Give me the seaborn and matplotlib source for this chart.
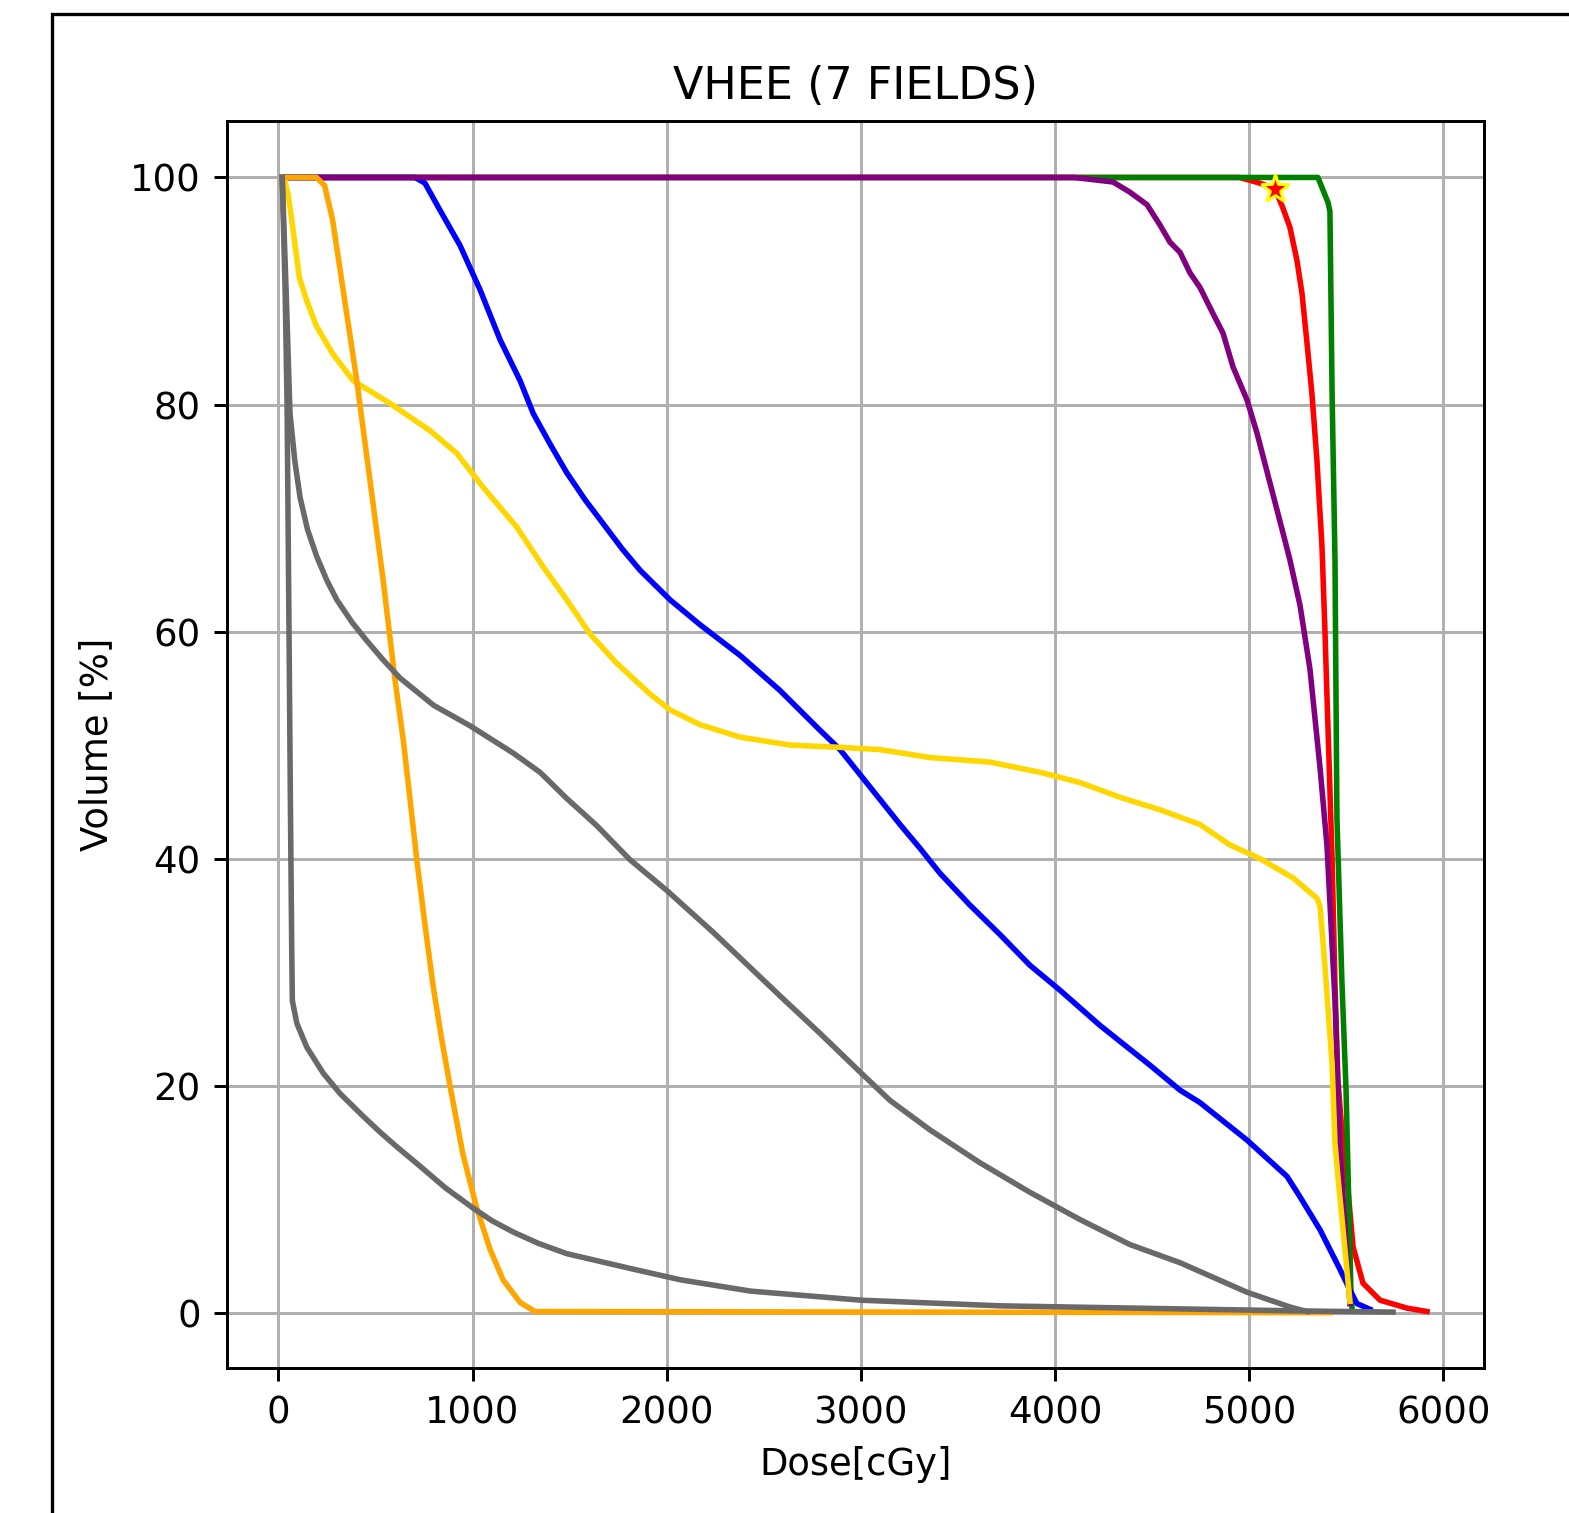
import matplotlib
matplotlib.use("Agg")
import matplotlib.pyplot as plt
from matplotlib.patches import Rectangle
import seaborn as sns
import pandas as pd

# ---- data (dose in cGy, volume in %) ----
red_x = [20, 4950, 5055, 5133, 5174, 5210, 5246, 5272, 5298, 5323, 5349, 5375, 5390, 5406, 5427,
         5442, 5457, 5473, 5509, 5535, 5586, 5674, 5813, 5916]
red_y = [100, 100, 99.5, 99.0, 97.3, 95.6, 92.7, 89.8, 85.4, 81.0, 75.1, 67.5, 60.2, 51.5, 40.0,
         28.9, 20.5, 17.0, 10.8, 5.8, 2.6, 1.1, 0.4, 0.1]

green_x = [20, 5354, 5406, 5416, 5427, 5442, 5452, 5478, 5499, 5524, 5530]
green_y = [100, 100, 97.8, 97.0, 81.0, 66.3, 43.6, 29.0, 19.6, 2.0, 0.3]

blue_x = [20, 704, 755, 833, 936, 1039, 1142, 1245, 1313, 1400, 1485, 1580, 1673, 1770, 1863,
          2017, 2172, 2378, 2584, 2790, 2893, 2996, 3099, 3202, 3305, 3408, 3562, 3717, 3871,
          4026, 4232, 4489, 4644, 4747, 4989, 5195, 5262, 5365, 5468, 5519, 5555, 5622]
blue_y = [100, 100, 99.5, 97.1, 94.0, 90.1, 85.7, 82.1, 79.2, 76.5, 74.0, 71.6, 69.5, 67.3, 65.4,
          62.8, 60.6, 57.9, 54.8, 51.3, 49.6, 47.4, 45.2, 43.0, 40.9, 38.7, 35.9, 33.3, 30.6,
          28.4, 25.3, 21.8, 19.6, 18.5, 15.2, 12.0, 10.2, 7.3, 3.8, 2.0, 0.8, 0.3]

purple_x = [20, 4100, 4299, 4386, 4474, 4541, 4592, 4644, 4695, 4747, 4814, 4865, 4917, 4989, 5040,
            5107, 5174, 5210, 5262, 5313, 5365, 5401, 5427, 5442, 5468, 5519]
purple_y = [100, 100, 99.6, 98.7, 97.6, 95.8, 94.3, 93.4, 91.6, 90.3, 88.0, 86.3, 83.3, 80.4, 77.5,
            73.1, 68.7, 66.3, 62.3, 56.7, 48.0, 41.1, 32.4, 27.5, 14.3, 0.8]

yellow_x = [20, 31, 50, 67, 88, 108, 145, 196, 279, 385, 575, 781, 919, 1055, 1228, 1364, 1485, 1605,
            1743, 1914, 2017, 2171, 2378, 2635, 2893, 3099, 3356, 3665, 3923, 4129, 4335, 4541,
            4747, 4901, 5055, 5226, 5349, 5365, 5390, 5427, 5442, 5457, 5519]
yellow_y = [100, 99.9, 98.5, 96.5, 93.8, 91.2, 89.2, 86.9, 84.5, 82.1, 80.1, 77.7, 75.7, 72.7, 69.2,
            65.7, 62.8, 59.8, 57.2, 54.5, 53.1, 51.8, 50.7, 50.0, 49.8, 49.6, 48.9, 48.5, 47.6,
            46.7, 45.4, 44.3, 43.0, 41.2, 40.0, 38.3, 36.5, 35.8, 30.6, 21.9, 14.9, 12.0, 1.0]

orange_x = [20, 196, 238, 279, 330, 404, 472, 540, 601, 643, 679, 713, 755, 797, 840, 884, 950,
            1022, 1090, 1157, 1245, 1322, 5420]
orange_y = [100, 100, 99.3, 96.3, 90.5, 82.1, 73.3, 64.5, 55.7, 50.5, 45.1, 39.9, 34.2, 28.8, 24.2,
            20.0, 14.0, 9.2, 5.6, 2.9, 0.9, 0.1, 0.0]

gray1_x = [20, 35, 45, 55, 62, 69, 72, 95, 146, 231, 318, 437, 524, 611, 730, 860, 1004, 1100, 1210,
           1340, 1485, 1811, 2069, 2432, 3000, 3723, 4756, 5272, 5741]
gray1_y = [100, 90, 80, 60, 45, 31.9, 27.5, 25.5, 23.4, 21.1, 19.3, 17.3, 15.9, 14.6, 12.9, 11.0,
           9.2, 8.1, 7.1, 6.1, 5.2, 3.9, 2.9, 1.9, 1.1, 0.6, 0.3, 0.15, 0.05]

gray2_x = [20, 40, 60, 85, 112, 150, 198, 250, 301, 380, 455, 540, 627, 800, 987, 1209, 1348, 1485,
           1640, 1811, 2000, 2240, 2584, 2790, 2996, 3150, 3356, 3614, 3871, 4129, 4386, 4644,
           4989, 5210, 5298]
gray2_y = [100, 90, 79.2, 75.0, 71.8, 69.0, 66.6, 64.5, 62.8, 60.8, 59.2, 57.5, 55.9, 53.5, 51.7,
           49.3, 47.6, 45.3, 42.9, 39.9, 37.2, 33.5, 27.9, 24.6, 21.2, 18.7, 16.1, 13.2, 10.6, 8.2,
           6.0, 4.4, 1.8, 0.5, 0.1]

star_x = [5133]
star_y = [99.0]

title = "VHEE (7 FIELDS)"
xlabel = "Dose[cGy]"
ylabel = "Volume [%]"

# ---- figure ----
DPI = 266
fig = plt.figure(figsize=(1569 / DPI, 1513 / DPI), dpi=DPI)
ax = fig.add_axes([226.7 / 1569, 1 - 1368.3 / 1513, (1484.3 - 226.7) / 1569, (1368.3 - 120.7) / 1513])

series = [
    (red_x, red_y, "red"),
    (green_x, green_y, "green"),
    (blue_x, blue_y, "blue"),
    (purple_x, purple_y, "purple"),
    (yellow_x, yellow_y, "gold"),
    (orange_x, orange_y, "orange"),
    (gray1_x, gray1_y, "dimgray"),
    (gray2_x, gray2_y, "dimgray"),
]
for xs, ys, c in series:
    df = pd.DataFrame({"x": xs, "y": ys})
    sns.lineplot(data=df, x="x", y="y", color=c, linewidth=1.5, sort=False,
                 estimator=None, ax=ax)

ax.plot(star_x, star_y, marker="*", color="red", markeredgecolor="yellow",
        markersize=8, markeredgewidth=0.8, linestyle="none")

ax.set_xlim(-266, 6211)
ax.set_ylim(-4.9, 105)
ax.set_xticks([0, 1000, 2000, 3000, 4000, 5000, 6000])
ax.set_yticks([0, 20, 40, 60, 80, 100])
ax.grid(True)
ax.set_title(title, fontsize=12)
ax.set_xlabel(xlabel, fontsize=10)
ax.set_ylabel(ylabel, fontsize=10)

# outer black frame (partially visible)
fig.add_artist(Rectangle((51.7 / 1569, -0.5), 2.0, (1 - 14 / 1513) + 0.5, fill=False,
                         edgecolor="black", linewidth=0.9, transform=fig.transFigure,
                         clip_on=False))

fig.savefig("out.png", dpi=DPI)
